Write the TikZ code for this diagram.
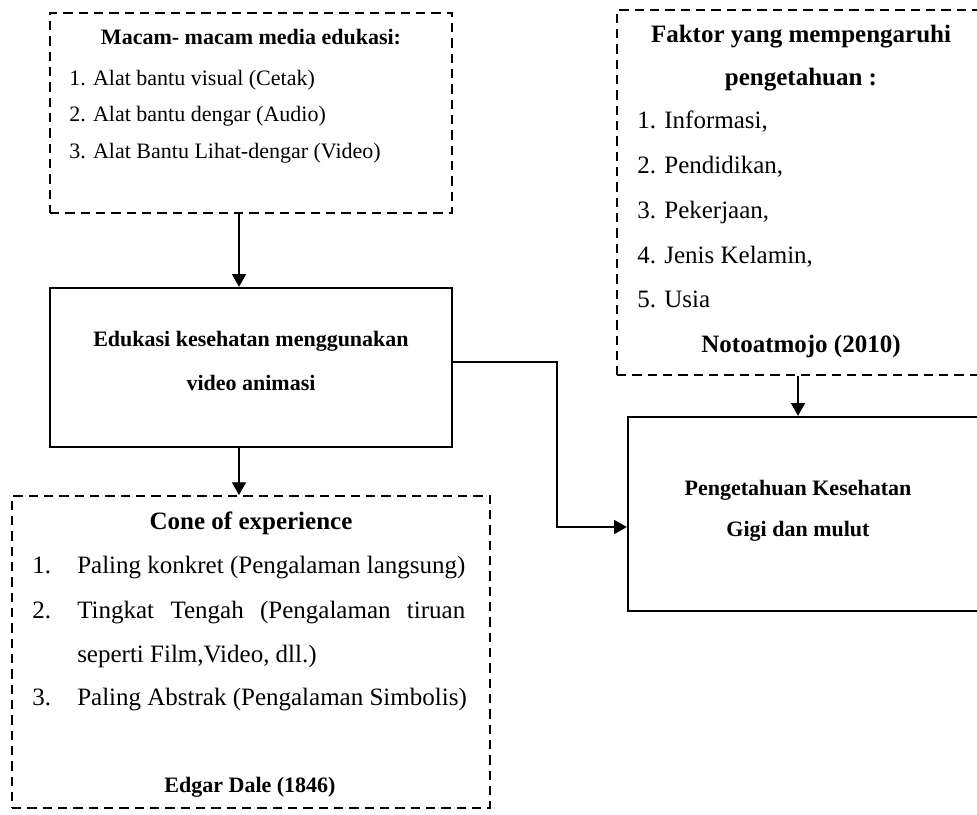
\documentclass[tikz,border=0pt]{standalone}
\usepackage{fontspec}
\setmainfont{Liberation Serif}
\usetikzlibrary{arrows.meta,fit}
\begin{document}
\begin{tikzpicture}[x=0.75pt,y=-0.75pt,
  dbox/.style={draw=black,line width=1.5pt,dash pattern=on 7pt off 4.5pt,inner sep=0pt,rectangle},
  sbox/.style={draw=black,line width=1.8pt,inner sep=0pt,rectangle},
  arr/.style={draw=black,line width=0.8pt,-{Triangle[length=9.5pt,width=10.5pt]}},
  txs/.style={inner sep=0pt,font=\fontsize{16.5pt}{19pt}\selectfont},
  txl/.style={inner sep=0pt,font=\fontsize{18.75pt}{22pt}\selectfont},
  txsb/.style={txs,font=\fontsize{16.5pt}{19pt}\selectfont\bfseries},
  txlb/.style={txl,font=\fontsize{18.75pt}{22pt}\selectfont\bfseries}]
\useasboundingbox (0,0) rectangle (977,814);
\clip (0,0) rectangle (977,814);
\fill[white] (0,0) rectangle (977,814);

% boxes
\node[dbox,fit={(50,13)(452,213)}] (macam) {};
\node[sbox,fit={(50,288)(452,447)}] (edu) {};
\node[dbox,fit={(12,496)(490,808)}] (cone) {};
\node[dbox,fit={(617,10)(1000,375)}] (faktor) {};
\node[sbox,fit={(628,417)(1000,611)}] (peng) {};

% macam text
\node[txsb,anchor=base] (m0) at (251,44) {Macam- macam media edukasi:};
\node[txs,anchor=base west] (m1) at (69,85) {1. Alat bantu visual (Cetak)};
\node[txs,anchor=base west] (m2) at (69,121) {2. Alat bantu dengar (Audio)};
\node[txs,anchor=base west] (m3) at (69,158) {3. Alat Bantu Lihat-dengar (Video)};

% edu text
\node[txsb,anchor=base] (e1) at (251,346) {Edukasi kesehatan menggunakan};
\node[txsb,anchor=base] (e2) at (251,390) {video animasi};

% cone text
\node[txlb,anchor=base] (c0) at (251,529) {Cone of experience};
\node[txl,anchor=base west] (c1n) at (32,573) {1.};
\node[txl,anchor=base west] (c1) at (77,573) {Paling konkret (Pengalaman langsung)};
\node[txl,anchor=base west] (c2n) at (32,618) {2.};
\node[txl,anchor=base west] (c2) at (77,618) {\makebox[291pt][s]{Tingkat Tengah (Pengalaman tiruan}};
\node[txl,anchor=base west] (c2b) at (77,662) {seperti Film,Video, dll.)};
\node[txl,anchor=base west] (c3n) at (32,705) {3.};
\node[txl,anchor=base west] (c3) at (77,705) {Paling Abstrak (Pengalaman Simbolis)};
\node[txsb,anchor=base] (c4) at (250,792) {Edgar Dale (1846)};

% faktor text
\node[txlb,anchor=base] (f0) at (801,42) {Faktor yang mempengaruhi};
\node[txlb,anchor=base] (f0b) at (801,85) {pengetahuan :};
\node[txl,anchor=base west] (f1) at (637,128) {1. Informasi,};
\node[txl,anchor=base west] (f2) at (637,173) {2. Pendidikan,};
\node[txl,anchor=base west] (f3) at (637,218) {3. Pekerjaan,};
\node[txl,anchor=base west] (f4) at (637,263) {4. Jenis Kelamin,};
\node[txl,anchor=base west] (f5) at (637,307) {5. Usia};
\node[txlb,anchor=base] (f6) at (801,352) {Notoatmojo (2010)};

% peng text
\node[txsb,anchor=base] (p1) at (798,495) {Pengetahuan Kesehatan};
\node[txsb,anchor=base] (p2) at (798,536) {Gigi dan mulut};

% connectors
\coordinate (xa) at (239,0);
\coordinate (xb) at (798,0);
\coordinate (k1) at (557,362);
\coordinate (k2) at (557,527);
\draw[arr] (macam.south -| xa) -- (edu.north -| xa);
\draw[arr] (edu.south -| xa) -- (cone.north -| xa);
\draw[arr] (faktor.south -| xb) -- (peng.north -| xb);
\draw[arr] (edu.east |- k1) -- (k1) |- (peng.west |- k2);
\end{tikzpicture}
\end{document}
